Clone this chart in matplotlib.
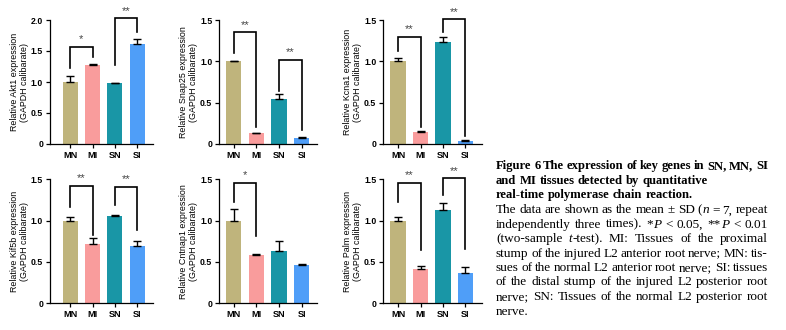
#!/usr/bin/env python3
"""Figure 6: qPCR expression of key genes in MN, MI, SN, SI tissues."""
import matplotlib
matplotlib.use('Agg')
import matplotlib.pyplot as plt
from matplotlib.ticker import FixedLocator

groups = ['MN', 'MI', 'SN', 'SI']
colors = ['#BFB47C', '#F99C9C', '#1996A6', '#4F9EF8']

genes = ['Akt1', 'Snap25', 'Kcna1', 'Kif5b', 'Cntnap1', 'Palm']

akt1_mean = [1.00, 1.27, 0.98, 1.62]
akt1_sd = [0.10, 0.02, 0.01, 0.08]
snap25_mean = [1.00, 0.13, 0.54, 0.07]
snap25_sd = [0.00, 0.00, 0.07, 0.01]
kcna1_mean = [1.00, 0.15, 1.23, 0.04]
kcna1_sd = [0.04, 0.01, 0.06, 0.01]
kif5b_mean = [1.00, 0.72, 1.06, 0.69]
kif5b_sd = [0.05, 0.07, 0.01, 0.06]
cntnap1_mean = [1.00, 0.58, 0.63, 0.46]
cntnap1_sd = [0.14, 0.02, 0.12, 0.02]
palm_mean = [1.00, 0.42, 1.13, 0.37]
palm_sd = [0.04, 0.03, 0.08, 0.07]

means = [akt1_mean, snap25_mean, kcna1_mean, kif5b_mean, cntnap1_mean, palm_mean]
sds = [akt1_sd, snap25_sd, kcna1_sd, kif5b_sd, cntnap1_sd, palm_sd]
ymax = [2.0, 1.5, 1.5, 1.5, 1.5, 1.5]

# significance brackets: (left bar, right bar, label, top, left foot, right foot)
akt1_sig = [(0, 1, '*', 1.57, 1.22, 1.41), (2, 3, '**', 2.03, 1.27, 1.81)]
snap25_sig = [(0, 1, '**', 1.35, 1.10, 0.21), (2, 3, '**', 1.02, 0.64, 0.17)]
kcna1_sig = [(0, 1, '**', 1.30, 1.12, 0.20), (2, 3, '**', 1.51, 1.36, 0.10)]
kif5b_sig = [(0, 1, '**', 1.42, 1.17, 0.83), (2, 3, '**', 1.41, 1.19, 0.89)]
cntnap1_sig = [(0, 1, '*', 1.46, 1.23, 0.81)]
palm_sig = [(0, 1, '**', 1.46, 1.23, 0.64), (2, 3, '**', 1.51, 1.31, 0.66)]
sigs = [akt1_sig, snap25_sig, kcna1_sig, kif5b_sig, cntnap1_sig, palm_sig]

title_lines = [
    'Figure 6 The expression of key genes in SN, MN, SI',
    'and MI tissues detected by quantitative',
    'real-time polymerase chain reaction.',
]
# _x_ marks italic pieces
body_lines = [
    'The data are shown as the mean ± SD (_n_ = 7, repeat',
    'independently three times). *_P_ < 0.05, **_P_ < 0.01',
    '(two-sample _t_-test). MI: Tissues of the proximal',
    'stump of the injured L2 anterior root nerve; MN: tis-',
    'sues of the normal L2 anterior root nerve; SI: tissues',
    'of the distal stump of the injured L2 posterior root',
    'nerve; SN: Tissues of the normal L2 posterior root',
    'nerve.',
]

W, H = 786, 330
SANS = 'Liberation Sans'
SERIF = 'Liberation Serif'

fig = plt.figure(figsize=(W / 100, H / 100), dpi=100)

# layout in pixels
col_left = [50, 219.3, 383.3]
col_right = [152.7, 316.7, 481.7]
col_xlim = [(-0.90, 3.69), (-0.63, 3.66), (-0.66, 3.73)]
row_top = [20, 179.3]
ax_h = 124

for i, gene in enumerate(genes):
    r, c = divmod(i, 3)
    l, rr = col_left[c], col_right[c]
    t = row_top[r]
    ax = fig.add_axes([l / W, 1 - (t + ax_h) / H, (rr - l) / W, ax_h / H])
    x = range(len(groups))
    ax.bar(x, means[i], width=0.68, color=colors, zorder=2)
    ax.errorbar(x, means[i], yerr=[[0] * 4, sds[i]], fmt='none', ecolor='black',
                elinewidth=1.0, capsize=3, capthick=1.0, zorder=3)
    ax.set_xlim(*col_xlim[c])
    ax.set_ylim(0, ymax[i])
    ticks = [k * 0.5 for k in range(int(ymax[i] / 0.5) + 1)]
    ax.yaxis.set_major_locator(FixedLocator(ticks))
    ax.set_yticklabels(['0' if v == 0 else f'{v:.1f}' for v in ticks],
                       fontfamily=SANS, fontweight='bold', fontsize=6.3)
    ax.set_xticks(list(x))
    ax.set_xticklabels(groups, fontfamily=SANS, fontweight='bold', fontsize=6.6)
    ax.tick_params(axis='both', direction='out', length=3, width=0.9, pad=2)
    for s in ['top', 'right']:
        ax.spines[s].set_visible(False)
    for s in ['left', 'bottom']:
        ax.spines[s].set_linewidth(0.9)
    ax.set_ylabel(f'Relative {gene} expression\n(GAPDH calibarate)',
                  fontfamily=SANS, fontsize=6.4, labelpad=1.5, linespacing=1.1)

    for a, b, lab, top, fa, fb in sigs[i]:
        ax.plot([a, a, b, b], [fa, top, top, fb], color='black', lw=1.2,
                clip_on=False, solid_joinstyle='miter', zorder=4)
        ax.text((a + b) / 2, top + ymax[i] * 0.02, lab, ha='center', va='bottom',
                fontsize=8, color='#444444', fontfamily=SANS)

# caption
renderer = fig.canvas.get_renderer()
cap_left, cap_right = 496, 768
baselines = [169.3, 184, 198.3, 213.3, 227.7, 242, 256.7, 271, 285.3, 300, 315.3]


def measure(txt, fs, **kw):
    t = fig.text(0, 0, txt, fontfamily=SERIF, fontsize=fs, **kw)
    w = t.get_window_extent(renderer).width
    t.remove()
    return w


def draw_line(line, y, justify, bold=False):
    weight = 'bold' if bold else 'normal'
    fs = 9.1 if bold else 9.5
    words = []
    for w in line.split(' '):
        parts = w.split('_')
        segs = [(p, 'italic' if k % 2 else 'normal') for k, p in enumerate(parts) if p]
        widths = [measure(p, fs, fontstyle=st, fontweight=weight) for p, st in segs]
        words.append((segs, widths))
    total = sum(sum(ws) for _, ws in words)
    space = measure('a a', fs, fontweight=weight) - measure('aa', fs, fontweight=weight)
    if justify and len(words) > 1:
        gap = (cap_right - cap_left - total) / (len(words) - 1)
    else:
        gap = space
    xpos = cap_left
    for segs, ws in words:
        for (p, st), wd in zip(segs, ws):
            fig.text(xpos / W, 1 - y / H, p, fontfamily=SERIF, fontsize=fs,
                     fontstyle=st, fontweight=weight, va='baseline', ha='left')
            xpos += wd
        xpos += gap


for k, line in enumerate(title_lines):
    draw_line(line, baselines[k], justify=(k == 0), bold=True)
for k, line in enumerate(body_lines):
    draw_line(line, baselines[3 + k], justify=(k < len(body_lines) - 1))

fig.savefig('out.png', dpi=100)
